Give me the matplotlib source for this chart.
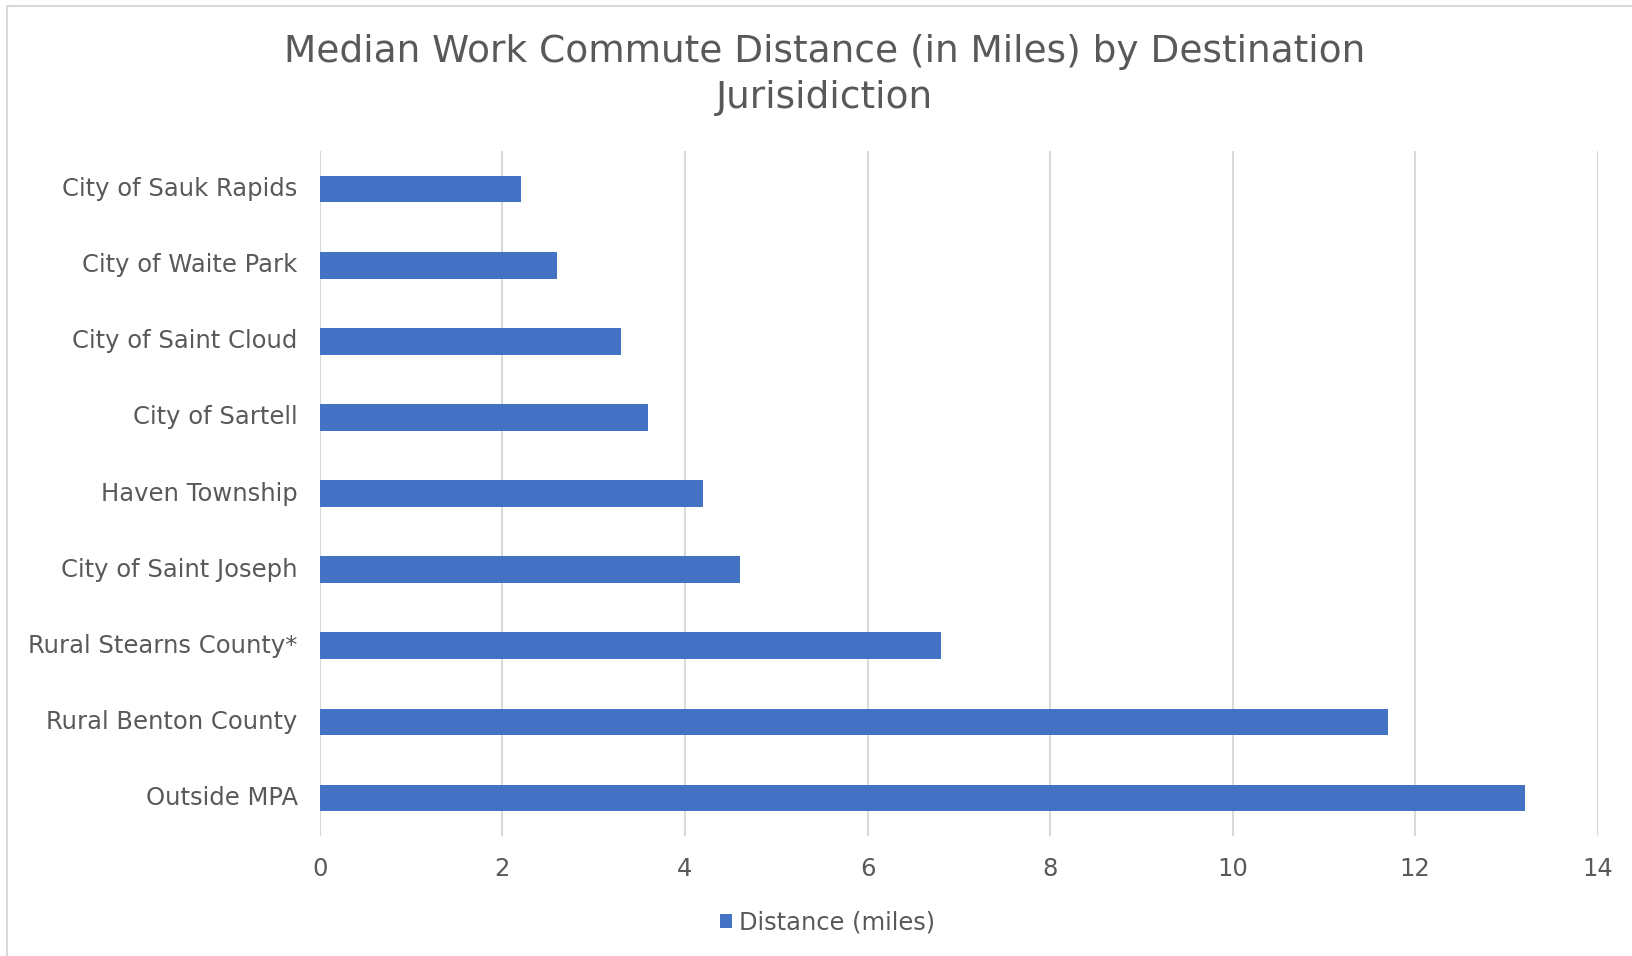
import matplotlib
matplotlib.use("Agg")
import matplotlib.pyplot as plt
from matplotlib.patches import Rectangle

categories = ["City of Sauk Rapids", "City of Waite Park", "City of Saint Cloud",
              "City of Sartell", "Haven Township", "City of Saint Joseph",
              "Rural Stearns County*", "Rural Benton County", "Outside MPA"]
distance = [2.2, 2.6, 3.3, 3.6, 4.2, 4.6, 6.8, 11.7, 13.2]
xticks = [0, 2, 4, 6, 8, 10, 12, 14]
title = "Median Work Commute Distance (in Miles) by Destination\nJurisidiction"
series_name = "Distance (miles)"

TXT = "#595959"
GRID = "#d9d9d9"
BAR = "#4472C4"

fig = plt.figure(figsize=(16.32, 9.56), dpi=100)
ax = fig.add_axes([0.196, 0.1255, 0.783, 0.7165])

y = list(range(len(categories)))
ax.barh(y, distance, height=0.35, color=BAR, label=series_name, zorder=3)
ax.set_ylim(len(categories) - 0.5, -0.5)
ax.set_xlim(0, 14)
ax.set_xticks(xticks)
ax.set_xticklabels([str(t) for t in xticks])
ax.set_yticks(y)
ax.set_yticklabels(categories)
ax.tick_params(axis="both", length=0, colors=TXT, labelsize=17.5)
ax.tick_params(axis="y", pad=16)
ax.tick_params(axis="x", pad=15)
for lbl in ax.get_yticklabels():
    lbl.set_va("center")
ax.grid(axis="x", color=GRID, linewidth=1.5, zorder=0)
for s in ax.spines.values():
    s.set_visible(False)

fig.text(0.505, 0.9215, title, ha="center", va="center", fontsize=27,
         color=TXT, linespacing=1.34)

leg = fig.legend(loc="center", bbox_to_anchor=(0.507, 0.035), frameon=False,
                 fontsize=17.4, handlelength=0.5, handleheight=0.5,
                 handletextpad=0.3, labelcolor=TXT)

fig.patches.append(Rectangle((0.0045, -0.1), 1.2, 1.094, transform=fig.transFigure,
                             fill=False, edgecolor=GRID, linewidth=1.5))

fig.savefig("out.png", dpi=100)
